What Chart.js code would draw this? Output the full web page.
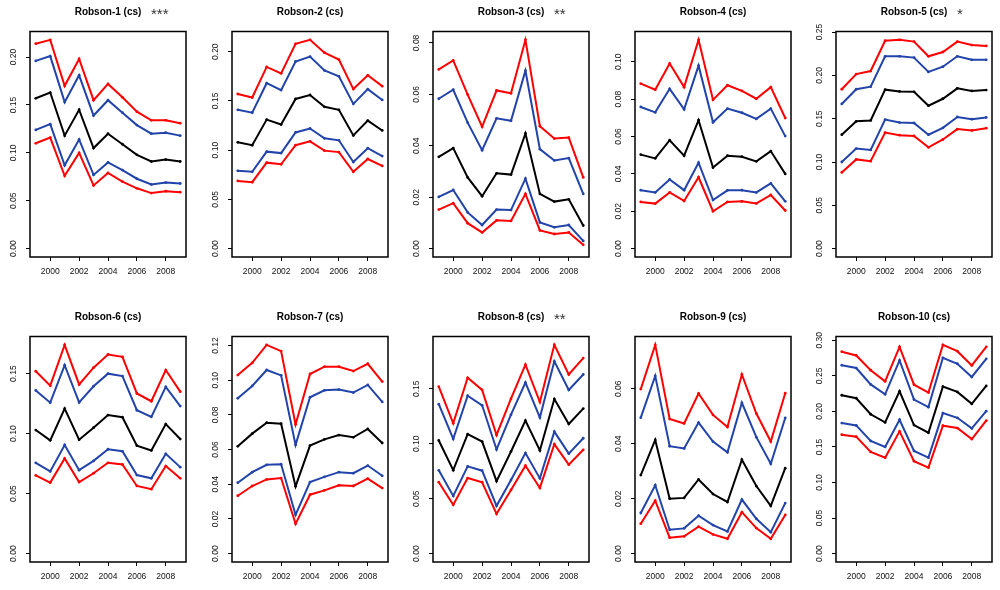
<!DOCTYPE html>
<html>
<head>
<meta charset="utf-8">
<script src="https://cdn.jsdelivr.net/npm/chart.js@4.4.1/dist/chart.umd.min.js"></script>
<style>
  html, body { margin: 0; padding: 0; background: #fff; }
  #wrap { position: relative; width: 1000px; height: 590px; overflow: hidden; }
  #wrap canvas { position: absolute; }
</style>
</head>
<body>
<div id="wrap"></div>
<script>
// ------------------------------------------------------------
// Données — une ligne par panneau
// ------------------------------------------------------------
const years = [1999, 2000, 2001, 2002, 2003, 2004, 2005, 2006, 2007, 2008, 2009];
const xTicks = [2000, 2002, 2004, 2006, 2008];

const titles = ["Robson-1 (cs)", "Robson-2 (cs)", "Robson-3 (cs)", "Robson-4 (cs)", "Robson-5 (cs)",
                "Robson-6 (cs)", "Robson-7 (cs)", "Robson-8 (cs)", "Robson-9 (cs)", "Robson-10 (cs)"];
const stars = ["***", "", "**", "", "*", "", "", "**", "", ""];

const yTicks = [
  [0, 0.05, 0.10, 0.15, 0.20],
  [0, 0.05, 0.10, 0.15, 0.20],
  [0, 0.02, 0.04, 0.06, 0.08],
  [0, 0.02, 0.04, 0.06, 0.08, 0.10],
  [0, 0.05, 0.10, 0.15, 0.20, 0.25],
  [0, 0.05, 0.10, 0.15],
  [0, 0.02, 0.04, 0.06, 0.08, 0.10, 0.12],
  [0, 0.05, 0.10, 0.15],
  [0, 0.02, 0.04, 0.06],
  [0, 0.05, 0.10, 0.15, 0.20, 0.25, 0.30]
];

// bornes externes (rouge), internes (bleu), estimation centrale (noir)
const redHigh = [
  [0.214, 0.218, 0.170, 0.198, 0.155, 0.172, 0.158, 0.143, 0.134, 0.134, 0.131],
  [0.157, 0.1535, 0.1845, 0.178, 0.208, 0.212, 0.199, 0.192, 0.162, 0.176, 0.165],
  [0.0697, 0.0732, 0.0599, 0.0474, 0.0615, 0.0604, 0.0812, 0.0476, 0.0428, 0.0432, 0.0277],
  [0.0883, 0.085, 0.0991, 0.0864, 0.1117, 0.0796, 0.0874, 0.0844, 0.0802, 0.0864, 0.0699],
  [0.184, 0.2015, 0.205, 0.240, 0.241, 0.239, 0.222, 0.227, 0.239, 0.235, 0.234],
  [0.152, 0.140, 0.174, 0.141, 0.155, 0.166, 0.164, 0.1335, 0.127, 0.153, 0.135],
  [0.103, 0.110, 0.1204, 0.1168, 0.0745, 0.1036, 0.1078, 0.1078, 0.1053, 0.1095, 0.0992],
  [0.152, 0.1186, 0.160, 0.149, 0.108, 0.141, 0.172, 0.138, 0.190, 0.163, 0.178],
  [0.0599, 0.076, 0.049, 0.0474, 0.0583, 0.0505, 0.0461, 0.0652, 0.051, 0.0408, 0.0584],
  [0.284, 0.2787, 0.258, 0.2423, 0.2908, 0.2376, 0.2265, 0.2936, 0.2847, 0.2647, 0.2908]
];
const blueHigh = [
  [0.196, 0.201, 0.153, 0.181, 0.139, 0.155, 0.142, 0.129, 0.120, 0.121, 0.118],
  [0.141, 0.138, 0.168, 0.161, 0.190, 0.195, 0.181, 0.175, 0.147, 0.162, 0.151],
  [0.0583, 0.0618, 0.049, 0.0383, 0.0507, 0.0497, 0.0692, 0.0387, 0.0343, 0.0352, 0.0213],
  [0.0758, 0.0729, 0.0855, 0.0745, 0.0979, 0.0676, 0.0749, 0.0727, 0.0694, 0.0749, 0.0602],
  [0.167, 0.184, 0.187, 0.222, 0.222, 0.2205, 0.204, 0.210, 0.222, 0.218, 0.218],
  [0.136, 0.1258, 0.157, 0.126, 0.1395, 0.150, 0.148, 0.1195, 0.114, 0.139, 0.123],
  [0.0896, 0.0967, 0.1059, 0.1028, 0.0627, 0.0902, 0.0942, 0.0946, 0.0929, 0.0973, 0.0875],
  [0.136, 0.1044, 0.1437, 0.135, 0.0948, 0.1265, 0.1557, 0.1238, 0.175, 0.149, 0.163],
  [0.0495, 0.0647, 0.0391, 0.0383, 0.0477, 0.0408, 0.0369, 0.0549, 0.0424, 0.0327, 0.0494],
  [0.265, 0.261, 0.238, 0.224, 0.2717, 0.2167, 0.206, 0.2754, 0.267, 0.2484, 0.274]
];
const central = [
  [0.157, 0.163, 0.118, 0.145, 0.105, 0.120, 0.109, 0.098, 0.091, 0.093, 0.091],
  [0.108, 0.105, 0.131, 0.126, 0.152, 0.156, 0.144, 0.141, 0.115, 0.130, 0.120],
  [0.0357, 0.0391, 0.0277, 0.0204, 0.0293, 0.0288, 0.0448, 0.0213, 0.0183, 0.0192, 0.009],
  [0.0503, 0.0483, 0.058, 0.0497, 0.0687, 0.0434, 0.0497, 0.0492, 0.0467, 0.0522, 0.040],
  [0.1315, 0.147, 0.148, 0.1835, 0.1815, 0.181, 0.165, 0.173, 0.185, 0.182, 0.183],
  [0.103, 0.0944, 0.1208, 0.095, 0.105, 0.1155, 0.1137, 0.090, 0.086, 0.108, 0.0955],
  [0.0619, 0.0692, 0.0755, 0.0749, 0.0388, 0.0623, 0.0659, 0.0684, 0.0671, 0.0719, 0.0638],
  [0.103, 0.076, 0.1087, 0.102, 0.066, 0.093, 0.121, 0.0939, 0.1407, 0.118, 0.132],
  [0.0286, 0.0414, 0.020, 0.0203, 0.027, 0.0217, 0.0188, 0.0342, 0.0246, 0.0174, 0.0311],
  [0.2227, 0.2185, 0.196, 0.1845, 0.2283, 0.1808, 0.170, 0.2349, 0.2274, 0.2106, 0.2358]
];
const blueLow = [
  [0.124, 0.130, 0.087, 0.114, 0.077, 0.090, 0.082, 0.073, 0.067, 0.069, 0.068],
  [0.079, 0.078, 0.0985, 0.097, 0.118, 0.122, 0.112, 0.110, 0.088, 0.102, 0.094],
  [0.0201, 0.0228, 0.0141, 0.0092, 0.0152, 0.015, 0.0272, 0.0102, 0.0083, 0.0092, 0.003],
  [0.0313, 0.0301, 0.037, 0.0313, 0.046, 0.026, 0.0312, 0.0313, 0.0301, 0.0349, 0.0253],
  [0.100, 0.1155, 0.114, 0.149, 0.1455, 0.145, 0.1315, 0.1395, 0.152, 0.1495, 0.1515],
  [0.0757, 0.0685, 0.0906, 0.0696, 0.0773, 0.087, 0.0853, 0.0655, 0.0628, 0.0832, 0.0721],
  [0.0409, 0.047, 0.0512, 0.0516, 0.0224, 0.0413, 0.0443, 0.047, 0.0464, 0.0508, 0.0449],
  [0.0758, 0.0525, 0.0794, 0.0755, 0.0435, 0.067, 0.0915, 0.0685, 0.111, 0.091, 0.105],
  [0.0148, 0.0249, 0.0087, 0.0092, 0.0138, 0.0104, 0.0081, 0.0197, 0.0127, 0.0078, 0.0184],
  [0.1836, 0.1803, 0.1584, 0.150, 0.1883, 0.1445, 0.135, 0.1976, 0.191, 0.1761, 0.2004]
];
const redLow = [
  [0.110, 0.116, 0.076, 0.100, 0.066, 0.079, 0.070, 0.063, 0.058, 0.060, 0.059],
  [0.0688, 0.0675, 0.0873, 0.0857, 0.105, 0.109, 0.0995, 0.098, 0.078, 0.091, 0.084],
  [0.0152, 0.0177, 0.0099, 0.0063, 0.011, 0.0108, 0.0213, 0.0071, 0.0057, 0.0063, 0.0015],
  [0.025, 0.0241, 0.0301, 0.0255, 0.0382, 0.020, 0.025, 0.0253, 0.0242, 0.0287, 0.0204],
  [0.088, 0.103, 0.101, 0.134, 0.131, 0.130, 0.117, 0.126, 0.138, 0.1365, 0.139],
  [0.0652, 0.0592, 0.0793, 0.0597, 0.067, 0.0757, 0.0743, 0.0564, 0.0537, 0.073, 0.0628],
  [0.0334, 0.039, 0.0428, 0.0436, 0.0172, 0.034, 0.0365, 0.0394, 0.039, 0.0432, 0.0378],
  [0.065, 0.0444, 0.0688, 0.065, 0.0362, 0.058, 0.080, 0.0598, 0.0996, 0.081, 0.0945],
  [0.0109, 0.0193, 0.0058, 0.0063, 0.0098, 0.007, 0.0054, 0.0151, 0.0093, 0.0054, 0.0141],
  [0.1673, 0.1645, 0.143, 0.135, 0.172, 0.130, 0.121, 0.180, 0.1766, 0.1612, 0.1869]
];

// ------------------------------------------------------------
// Mise en page (grille 5 x 2 façon R mfrow)
// ------------------------------------------------------------
const RED = "#ff0000", BLUE = "#2244aa", BLACK = "#000000";
const FONT = '"Liberation Sans", Arial, Helvetica, sans-serif';
const CW = 200, CH = 290;
const AXIS_W = 32, PAD_TOP = 31.5, PAD_RIGHT = 12, AXIS_H = 33;

// cadre + labels Y verticaux + titre (comme R)
const framePlugin = {
  id: "frame",
  afterDraw(chart, args, opts) {
    const ctx = chart.ctx;
    const a = chart.chartArea;
    const y = chart.scales.y;
    ctx.save();
    ctx.strokeStyle = "#000";
    ctx.lineWidth = 1.5;
    ctx.strokeRect(a.left, a.top, a.right - a.left, a.bottom - a.top);

    ctx.fillStyle = "#111";
    ctx.font = "8.5px " + FONT;
    ctx.textAlign = "center";
    ctx.textBaseline = "middle";
    opts.ticks.forEach(v => {
      ctx.save();
      ctx.translate(a.left - 16, y.getPixelForValue(v));
      ctx.rotate(-Math.PI / 2);
      ctx.fillText(v.toFixed(2), 0, 0);
      ctx.restore();
    });

    const cx = (a.left + a.right) / 2;
    ctx.fillStyle = "#000";
    ctx.font = "bold 10px " + FONT;
    ctx.fillText(opts.title, cx, a.top - 19);
    if (opts.stars) {
      ctx.textAlign = "left";
      ctx.fillStyle = "#333";
      ctx.font = "15px " + FONT;
      ctx.fillText(opts.stars, cx + 43, a.top - 17);
    }
    ctx.restore();
  }
};

function serie(values, color) {
  return {
    data: years.map((yr, j) => ({ x: yr, y: values[j] })),
    borderColor: color,
    backgroundColor: color,
    borderWidth: 2,
    pointRadius: 1.4,
    pointBorderWidth: 0,
    tension: 0
  };
}

const wrap = document.getElementById("wrap");

for (let i = 0; i < 10; i++) {
  const col = i % 5, row = Math.floor(i / 5);
  const canvas = document.createElement("canvas");
  canvas.width = CW;
  canvas.height = CH;
  canvas.style.left = (30 + 201.5 * col - AXIS_W) + "px";
  canvas.style.top = (row * 304.5) + "px";
  wrap.appendChild(canvas);

  const top = Math.max(...redHigh[i]);

  new Chart(canvas.getContext("2d"), {
    type: "line",
    data: {
      datasets: [
        serie(redHigh[i], RED),
        serie(blueHigh[i], BLUE),
        serie(central[i], BLACK),
        serie(blueLow[i], BLUE),
        serie(redLow[i], RED)
      ]
    },
    options: {
      responsive: false,
      animation: false,
      events: [],
      layout: { padding: { left: 0, top: PAD_TOP, right: PAD_RIGHT, bottom: 0 } },
      plugins: {
        legend: { display: false },
        tooltip: { enabled: false },
        frame: { title: titles[i], stars: stars[i], ticks: yTicks[i] }
      },
      scales: {
        x: {
          type: "linear",
          min: 1998.6,
          max: 2009.4,
          afterBuildTicks: s => { s.ticks = xTicks.map(v => ({ value: v })); },
          afterFit: s => { s.height = AXIS_H; },
          ticks: {
            color: "#111",
            font: { size: 8.5, family: FONT },
            padding: 6,
            maxRotation: 0,
            callback: v => String(v)
          },
          grid: { drawOnChartArea: false, drawTicks: true, tickLength: 4, color: "#000", lineWidth: 1 },
          border: { display: false }
        },
        y: {
          type: "linear",
          min: -0.04 * top,
          max: 1.04 * top,
          afterBuildTicks: s => { s.ticks = yTicks[i].map(v => ({ value: v })); },
          afterFit: s => { s.width = AXIS_W; },
          ticks: { display: false },
          grid: { drawOnChartArea: false, drawTicks: true, tickLength: 4, color: "#000", lineWidth: 1 },
          border: { display: false }
        }
      }
    },
    plugins: [framePlugin]
  });
}
</script>
</body>
</html>
